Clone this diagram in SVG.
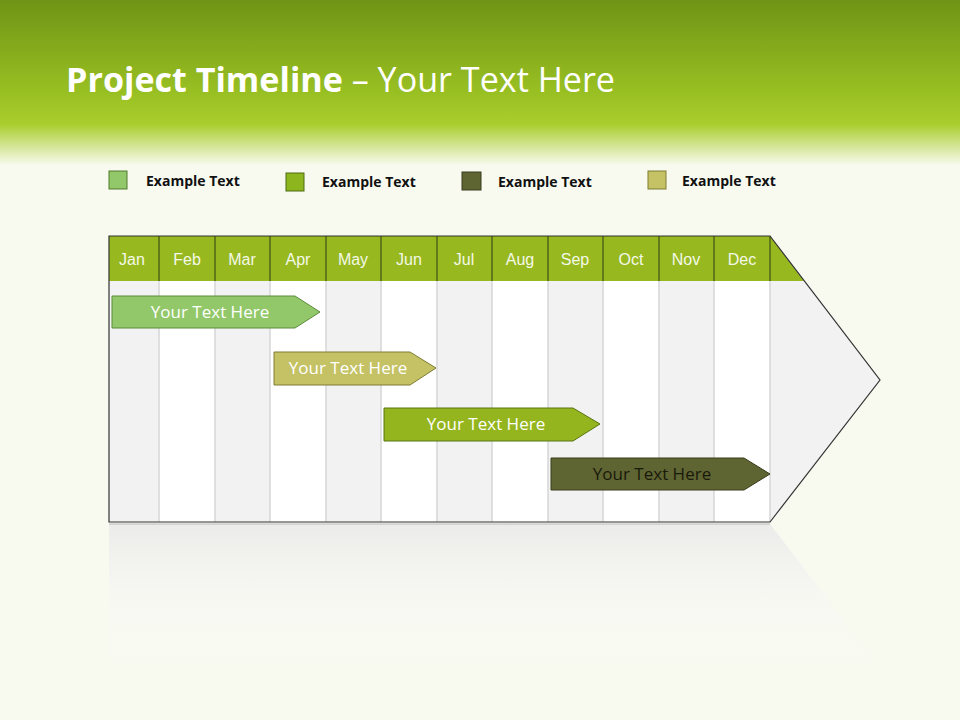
<svg xmlns="http://www.w3.org/2000/svg" width="960" height="720" viewBox="0 0 960 720">
<defs>
<linearGradient id="hdr" x1="0" y1="0" x2="0" y2="1">
<stop offset="0" stop-color="#6f9416"/><stop offset="0.55" stop-color="#98bf22"/><stop offset="0.75" stop-color="#a9cd2c"/><stop offset="1" stop-color="#f7faee"/>
</linearGradient>
<linearGradient id="refl" x1="0" y1="0" x2="0" y2="1">
<stop offset="0" stop-color="#e8e8e8" stop-opacity="0.8"/><stop offset="1" stop-color="#ffffff" stop-opacity="0"/>
</linearGradient>
<style>
.mon{font-family:"Liberation Sans",Arial,sans-serif;font-size:16px;fill:#f4f8e8;text-anchor:middle}
.leg{font-family:"Open Sans","Liberation Sans",sans-serif;font-weight:bold;font-size:14px;fill:#111}
.bar{font-family:"Open Sans","Liberation Sans",sans-serif;font-size:17px;text-anchor:middle}
.sep{stroke:#d6d6d6;stroke-width:1.5}
.hs{stroke:#2d3a10;stroke-width:1}
</style>
</defs>
<rect width="960" height="720" fill="#f8faf0"/>
<rect width="960" height="165" fill="url(#hdr)"/>
<text x="66" y="92" font-family="Open Sans,Liberation Sans,sans-serif" font-size="34" fill="#fff" textLength="549" lengthAdjust="spacingAndGlyphs"><tspan font-weight="bold">Project Timeline</tspan> – Your Text Here</text>
<g id="legend">
<rect x="109" y="171" width="18" height="18" fill="#92c86a" stroke="#4e7a2a"/><text class="leg" x="146" y="186">Example Text</text>
<rect x="286" y="173" width="18" height="18" fill="#8db51e" stroke="#4e6a12"/><text class="leg" x="322" y="187">Example Text</text>
<rect x="462" y="172" width="19" height="18" fill="#5f6433" stroke="#3a3d1c"/><text class="leg" x="498" y="187">Example Text</text>
<rect x="648" y="171" width="18" height="18" fill="#c4c264" stroke="#7e7c32"/><text class="leg" x="682" y="186">Example Text</text>
</g>
<g id="timeline">
<polygon points="109,524 770,524 880,668 109,668" fill="url(#refl)"/>
<polygon points="109,236 770,236 880,380 770,522 109,522" fill="#f2f2f2"/>
<rect x="159" y="281" width="56" height="241" fill="#fff"/>
<rect x="270" y="281" width="56" height="241" fill="#fff"/>
<rect x="381" y="281" width="56" height="241" fill="#fff"/>
<rect x="492" y="281" width="56" height="241" fill="#fff"/>
<rect x="603" y="281" width="56" height="241" fill="#fff"/>
<rect x="714" y="281" width="56" height="241" fill="#fff"/>
<g class="sep">
<line x1="159" y1="281" x2="159" y2="522"/><line x1="215" y1="281" x2="215" y2="522"/><line x1="270" y1="281" x2="270" y2="522"/><line x1="326" y1="281" x2="326" y2="522"/><line x1="381" y1="281" x2="381" y2="522"/><line x1="437" y1="281" x2="437" y2="522"/><line x1="492" y1="281" x2="492" y2="522"/><line x1="548" y1="281" x2="548" y2="522"/><line x1="603" y1="281" x2="603" y2="522"/><line x1="659" y1="281" x2="659" y2="522"/><line x1="714" y1="281" x2="714" y2="522"/><line x1="770" y1="281" x2="770" y2="522"/>
</g>
<polygon points="109,236 770,236 804,281 109,281" fill="#97b91f"/>
<g class="hs">
<line x1="159" y1="236" x2="159" y2="281"/><line x1="215" y1="236" x2="215" y2="281"/><line x1="270" y1="236" x2="270" y2="281"/><line x1="326" y1="236" x2="326" y2="281"/><line x1="381" y1="236" x2="381" y2="281"/><line x1="437" y1="236" x2="437" y2="281"/><line x1="492" y1="236" x2="492" y2="281"/><line x1="548" y1="236" x2="548" y2="281"/><line x1="603" y1="236" x2="603" y2="281"/><line x1="659" y1="236" x2="659" y2="281"/><line x1="714" y1="236" x2="714" y2="281"/><line x1="770" y1="236" x2="770" y2="281"/>
</g>
<polygon points="109,236 770,236 880,380 770,522 109,522" fill="none" stroke="#333" stroke-width="1.2"/>
<line x1="109" y1="524" x2="770" y2="524" stroke="#bbb"/>
<text class="mon" x="132" y="265">Jan</text><text class="mon" x="187" y="265">Feb</text><text class="mon" x="242" y="265">Mar</text><text class="mon" x="298" y="265">Apr</text><text class="mon" x="353" y="265">May</text><text class="mon" x="409" y="265">Jun</text><text class="mon" x="464" y="265">Jul</text><text class="mon" x="520" y="265">Aug</text><text class="mon" x="575" y="265">Sep</text><text class="mon" x="631" y="265">Oct</text><text class="mon" x="686" y="265">Nov</text><text class="mon" x="742" y="265">Dec</text>
</g>
<g id="bar1"><polygon points="112,296 295,296 320,312 295,328 112,328" fill="#92c86a" stroke="#5e8a3a"/><text class="bar" x="210" y="318" fill="#fff">Your  Text Here</text></g>
<g id="bar2"><polygon points="274,352 410,352 436,368 410,385 274,385" fill="#c4c264" stroke="#7e7c32"/><text class="bar" x="348" y="374" fill="#fff">Your  Text Here</text></g>
<g id="bar3"><polygon points="384,408 573,408 600,424 573,441 384,441" fill="#94b51e" stroke="#5a7412"/><text class="bar" x="486" y="430" fill="#fff">Your  Text Here</text></g>
<g id="bar4"><polygon points="551,458 744,458 770,474 744,490 551,490" fill="#5f6433" stroke="#3a3d1c"/><text class="bar" x="652" y="480" fill="#1a1a0a">Your  Text Here</text></g>
</svg>
